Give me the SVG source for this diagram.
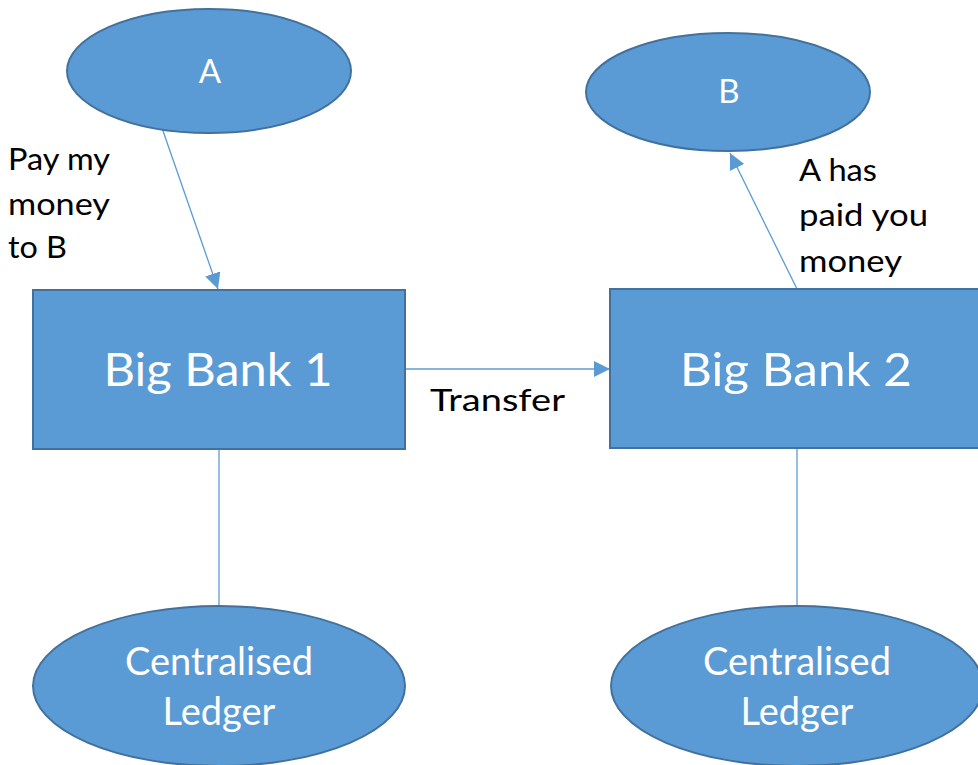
<svg xmlns="http://www.w3.org/2000/svg" width="978" height="765" viewBox="0 0 978 765">
  <style>
    .shape { fill: #5b9bd5; stroke: #41719c; stroke-width: 2; }
    .wire { fill: none; stroke: #5b9bd5; stroke-width: 1.3; }
    .in { font-family: Lato, "Open Sans", sans-serif; fill: #ffffff; text-anchor: middle; }
    .note { font-family: Lato, "Open Sans", sans-serif; fill: #000000; font-size: 31px; }
  </style>
  <defs>
    <marker id="tipL" viewBox="0 0 10 10" refX="10" refY="5" markerWidth="16" markerHeight="16" markerUnits="userSpaceOnUse" orient="auto">
      <path d="M0,0 L10,5 L0,10 Z" fill="#5b9bd5"/>
    </marker>
  </defs>
  <rect width="978" height="765" fill="#ffffff"/>

  <g id="connectors">
    <line class="wire" x1="162" y1="128" x2="218" y2="289" marker-end="url(#tipL)"/>
    <line class="wire" x1="797" y1="289" x2="730" y2="153" marker-end="url(#tipL)"/>
    <line class="wire" x1="405" y1="369" x2="610" y2="369" marker-end="url(#tipL)"/>
    <line class="wire" x1="219" y1="449" x2="219" y2="605"/>
    <line class="wire" x1="797" y1="448" x2="797" y2="605"/>
  </g>

  <g id="node-a">
    <ellipse class="shape" cx="209" cy="71" rx="142" ry="62"/>
    <text class="in" x="210" y="83" font-size="33">A</text>
  </g>
  <g id="node-b">
    <ellipse class="shape" cx="728" cy="92" rx="142" ry="59"/>
    <text class="in" x="729" y="103" font-size="33">B</text>
  </g>
  <g id="bank-1">
    <rect class="shape" x="33" y="290" width="372" height="159"/>
    <text class="in" x="218" y="386" font-size="47" textLength="229" lengthAdjust="spacingAndGlyphs">Big Bank 1</text>
  </g>
  <g id="bank-2">
    <rect class="shape" x="610" y="289" width="372" height="159"/>
    <text class="in" x="796" y="386" font-size="47" textLength="232" lengthAdjust="spacingAndGlyphs">Big Bank 2</text>
  </g>
  <g id="ledger-1">
    <ellipse class="shape" cx="219" cy="686" rx="186" ry="80"/>
    <text class="in" x="219" y="675" font-size="38">Centralised</text>
    <text class="in" x="219" y="725" font-size="38">Ledger</text>
  </g>
  <g id="ledger-2">
    <ellipse class="shape" cx="797" cy="686" rx="186" ry="80"/>
    <text class="in" x="797" y="675" font-size="38">Centralised</text>
    <text class="in" x="797" y="725" font-size="38">Ledger</text>
  </g>

  <g id="labels">
    <text class="note" x="8" y="170" textLength="102" lengthAdjust="spacingAndGlyphs">Pay my</text>
    <text class="note" x="8" y="215" textLength="102" lengthAdjust="spacingAndGlyphs">money</text>
    <text class="note" x="8" y="258" textLength="59" lengthAdjust="spacingAndGlyphs">to B</text>
    <text class="note" x="799" y="181" textLength="78" lengthAdjust="spacingAndGlyphs">A has</text>
    <text class="note" x="799" y="226" textLength="129" lengthAdjust="spacingAndGlyphs">paid you</text>
    <text class="note" x="799" y="272" textLength="103" lengthAdjust="spacingAndGlyphs">money</text>
    <text class="note" x="430" y="411" font-size="39" textLength="135" lengthAdjust="spacingAndGlyphs">Transfer</text>
  </g>
</svg>
